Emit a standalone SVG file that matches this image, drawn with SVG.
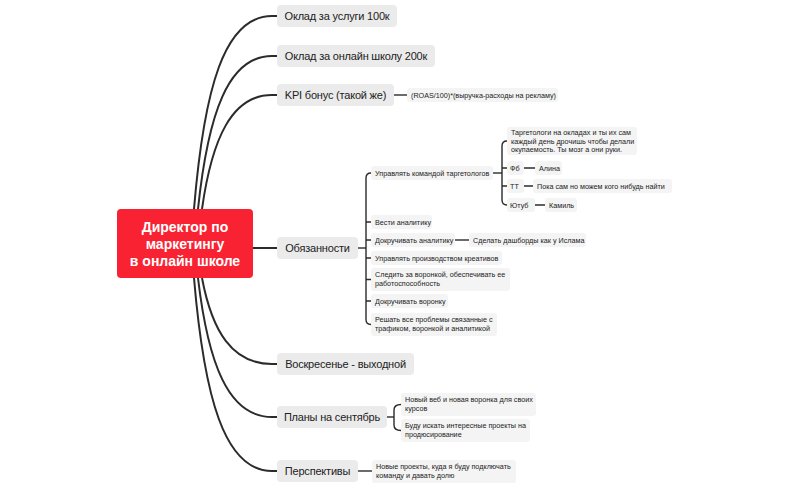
<svg xmlns="http://www.w3.org/2000/svg" width="789" height="488" viewBox="0 0 789 488">
<style>
.bg{fill:#ffffff}
.root{fill:#F92232}
.rt{font-family:"Liberation Sans",Arial,sans-serif;font-size:14px;font-weight:bold;fill:#ffffff;text-anchor:middle}
.mb{fill:#EBEBEB}
.mt{font-family:"Liberation Sans",Arial,sans-serif;font-size:11px;letter-spacing:-0.2px;fill:#222222;text-anchor:middle}
.sb{fill:#F4F4F4}
.st{font-family:"Liberation Sans",Arial,sans-serif;font-size:7.2px;fill:#222222}
.c1{fill:none;stroke:#2b2b2b;stroke-width:2}
.c2{fill:none;stroke:#2b2b2b;stroke-width:1.4}
</style>
<rect class="bg" x="0" y="0" width="789" height="488"/>
<g id="connectors">
<path class="c1" d="M194 209 C204 89 224 16 272 16 L277 16"/>
<path class="c1" d="M198 209 C208 114 228 56 272 56 L277 56"/>
<path class="c1" d="M202 209 C212 138 232 95 272 95 L277 95"/>
<path class="c1" d="M253 248 L277 248"/>
<path class="c1" d="M202 278 C212 331 232 364 272 364 L277 364"/>
<path class="c1" d="M198 278 C208 363 228 417 272 417 L277 417"/>
<path class="c1" d="M194 278 C204 396 224 471 272 471 L277 471"/>
<path class="c2" d="M394 95 L407 95"/>
<path class="c2" d="M358 248 L366 248"/>
<path class="c2" d="M371 173 Q366 173 366 178 L366 319.5 Q366 324.5 371 324.5"/>
<path class="c2" d="M366 222 L371 222 M366 240 L371 240 M366 258 L371 258 M366 279.5 L371 279.5 M366 301 L371 301"/>
<path class="c2" d="M493 173 L502 173"/>
<path class="c2" d="M507 141 Q502 141 502 146 L502 200 Q502 205 507 205"/>
<path class="c2" d="M502 168 L507 168 M502 186 L507 186"/>
<path class="c2" d="M524 168 L535 168 M524 186 L533 186 M535 205 L545 205"/>
<path class="c2" d="M455 240 L469 240"/>
<path class="c2" d="M387 417 L394 417"/>
<path class="c2" d="M401 404.5 Q394 404.5 394 410 L394 425 Q394 430.5 401 430.5"/>
<path class="c2" d="M358 471 L372 471"/>
</g>
<g id="root">
<rect class="root" x="117" y="209" width="136" height="69" rx="4"/>
<text class="rt" x="185" y="232">Директор по</text>
<text class="rt" x="185" y="249">маркетингу</text>
<text class="rt" x="185" y="266">в онлайн школе</text>
</g>
<g id="n-oklad-uslugi"><rect class="mb" x="277" y="5" width="120" height="22" rx="4"/><text class="mt" x="337" y="20">Оклад за услуги 100к</text></g>
<g id="n-oklad-school"><rect class="mb" x="277" y="45" width="158" height="22" rx="4"/><text class="mt" x="356" y="60">Оклад за онлайн школу 200к</text></g>
<g id="n-kpi"><rect class="mb" x="277" y="84" width="117" height="22" rx="4"/><text class="mt" x="335.5" y="99">KPI бонус (такой же)</text></g>
<g id="n-kpi-formula"><rect class="sb" x="407" y="88" width="151" height="14" rx="3"/><text class="st" x="411" y="97.5">(ROAS/100)*(выручка-расходы на рекламу)</text></g>
<g id="n-duties"><rect class="mb" x="277" y="237" width="81" height="22" rx="4"/><text class="mt" x="317.5" y="252">Обязанности</text></g>
<g id="n-team"><rect class="sb" x="371" y="166" width="122" height="14" rx="3"/><text class="st" x="375" y="175.5">Управлять командой таргетологов</text></g>
<g id="n-target"><rect class="sb" x="507" y="127" width="130" height="28" rx="3"/><text class="st" x="511" y="135">Таргетологи на окладах и ты их сам</text><text class="st" x="511" y="143.7">каждый день дрочишь чтобы делали</text><text class="st" x="511" y="152.4">окупаемость. Ты мозг а они руки.</text></g>
<g id="n-fb"><rect class="sb" x="507" y="161" width="17" height="14" rx="3"/><text class="st" x="510" y="170.5">Фб</text></g>
<g id="n-alina"><rect class="sb" x="535" y="161" width="27" height="14" rx="3"/><text class="st" x="539" y="170.5">Алина</text></g>
<g id="n-tt"><rect class="sb" x="507" y="179" width="17" height="14" rx="3"/><text class="st" x="510" y="188.5">ТТ</text></g>
<g id="n-tt-c"><rect class="sb" x="533" y="179" width="139" height="14" rx="3"/><text class="st" x="537" y="188.5">Пока сам но можем кого нибудь найти</text></g>
<g id="n-yt"><rect class="sb" x="507" y="198" width="28" height="14" rx="3"/><text class="st" x="510" y="207.5">Ютуб</text></g>
<g id="n-kamil"><rect class="sb" x="545" y="198" width="32" height="14" rx="3"/><text class="st" x="549" y="207.5">Камиль</text></g>
<g id="n-analytics"><rect class="sb" x="371" y="215" width="61" height="14" rx="3"/><text class="st" x="375" y="224.5">Вести аналитику</text></g>
<g id="n-tune-an"><rect class="sb" x="371" y="233" width="84" height="14" rx="3"/><text class="st" x="375" y="242.5">Докручивать аналитику</text></g>
<g id="n-dash"><rect class="sb" x="469" y="233" width="117" height="14" rx="3"/><text class="st" x="473" y="242.5">Сделать дашборды как у Ислама</text></g>
<g id="n-creatives"><rect class="sb" x="371" y="251" width="131" height="14" rx="3"/><text class="st" x="375" y="260.5">Управлять производством креативов</text></g>
<g id="n-funnel"><rect class="sb" x="371" y="268" width="139" height="23" rx="3"/><text class="st" x="375" y="277">Следить за воронкой, обеспечивать ее</text><text class="st" x="375" y="285.7">работоспособность</text></g>
<g id="n-tune-f"><rect class="sb" x="371" y="294" width="77" height="14" rx="3"/><text class="st" x="375" y="303.5">Докручивать воронку</text></g>
<g id="n-solve"><rect class="sb" x="371" y="313" width="126" height="23" rx="3"/><text class="st" x="375" y="322">Решать все проблемы связанные с</text><text class="st" x="375" y="330.7">трафиком, воронкой и аналитикой</text></g>
<g id="n-sunday"><rect class="mb" x="277" y="353" width="137" height="22" rx="4"/><text class="mt" x="345.5" y="368">Воскресенье - выходной</text></g>
<g id="n-plans"><rect class="mb" x="277" y="406" width="110" height="22" rx="4"/><text class="mt" x="332" y="421">Планы на сентябрь</text></g>
<g id="n-web"><rect class="sb" x="401" y="393" width="135" height="23" rx="3"/><text class="st" x="405" y="402">Новый веб и новая воронка для своих</text><text class="st" x="405" y="410.7">курсов</text></g>
<g id="n-prod"><rect class="sb" x="401" y="419" width="129" height="23" rx="3"/><text class="st" x="405" y="428">Буду искать интересные проекты на</text><text class="st" x="405" y="436.7">продюсирование</text></g>
<g id="n-persp"><rect class="mb" x="277" y="460" width="81" height="22" rx="4"/><text class="mt" x="317.5" y="475">Перспективы</text></g>
<g id="n-persp-c"><rect class="sb" x="372" y="460" width="144" height="23" rx="3"/><text class="st" x="376" y="469">Новые проекты, куда я буду подключать</text><text class="st" x="376" y="477.7">команду и давать долю</text></g>
</svg>
